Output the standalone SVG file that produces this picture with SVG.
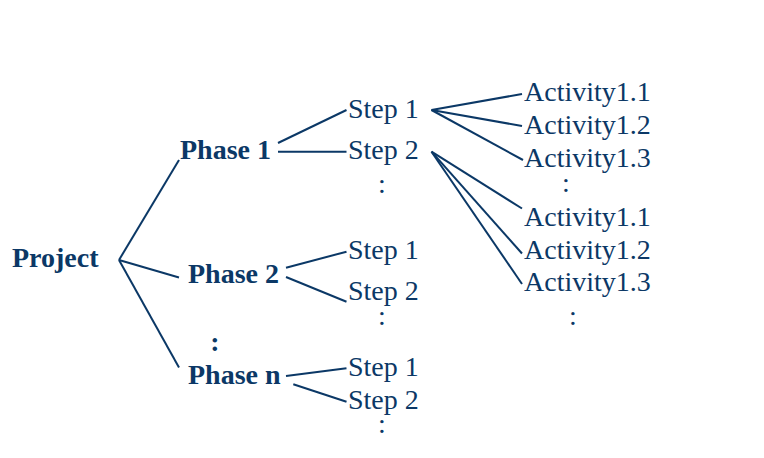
<svg xmlns="http://www.w3.org/2000/svg" width="764" height="458" viewBox="0 0 764 458">
<style>
.t{font-family:"Liberation Serif","Times New Roman",serif;font-size:28px;fill:#0b3866}
.b{font-weight:bold}
.c{text-anchor:middle}
.l line{stroke:#0b3866;stroke-width:2;fill:none}
</style>
<rect width="764" height="458" fill="#ffffff"/>
<g id="connectors" class="l">
<line x1="119" y1="260" x2="179" y2="160"/>
<line x1="119" y1="260" x2="179" y2="277.5"/>
<line x1="119" y1="260" x2="179" y2="367.5"/>
<line x1="278" y1="143" x2="346.5" y2="110"/>
<line x1="278" y1="151.7" x2="346.5" y2="151.7"/>
<line x1="286" y1="267.7" x2="346.5" y2="251.7"/>
<line x1="286" y1="277" x2="346.5" y2="301.7"/>
<line x1="286" y1="376" x2="346.5" y2="368.3"/>
<line x1="293.3" y1="384.3" x2="346.5" y2="401.7"/>
<line x1="431.5" y1="110" x2="522" y2="94"/>
<line x1="431.5" y1="110" x2="522" y2="126"/>
<line x1="431.5" y1="110" x2="523" y2="160"/>
<line x1="431.5" y1="151.7" x2="522" y2="208.5"/>
<line x1="431.5" y1="151.7" x2="522" y2="253.5"/>
<line x1="431.5" y1="151.7" x2="522" y2="284"/>
</g>
<g id="project"><text class="t b" x="12" y="267">Project</text></g>
<g id="phase1"><text class="t b" x="180" y="159">Phase 1</text></g>
<g id="phase2"><text class="t b" x="188" y="283">Phase 2</text></g>
<g id="phase-dots"><text class="t b c" x="215" y="351">:</text></g>
<g id="phasen"><text class="t b" x="188" y="384">Phase n</text></g>
<g id="p1-step1"><text class="t" x="348" y="118">Step 1</text></g>
<g id="p1-step2"><text class="t" x="348" y="159">Step 2</text></g>
<g id="p1-dots"><text class="t c" x="382" y="193">:</text></g>
<g id="p2-step1"><text class="t" x="348" y="259">Step 1</text></g>
<g id="p2-step2"><text class="t" x="348" y="300">Step 2</text></g>
<g id="p2-dots"><text class="t c" x="382" y="325">:</text></g>
<g id="pn-step1"><text class="t" x="348" y="376">Step 1</text></g>
<g id="pn-step2"><text class="t" x="348" y="409">Step 2</text></g>
<g id="pn-dots"><text class="t c" x="382" y="433">:</text></g>
<g id="s1-a1"><text class="t" x="524" y="101">Activity1.1</text></g>
<g id="s1-a2"><text class="t" x="524" y="134">Activity1.2</text></g>
<g id="s1-a3"><text class="t" x="524" y="167">Activity1.3</text></g>
<g id="s1-dots"><text class="t c" x="566" y="192">:</text></g>
<g id="s2-a1"><text class="t" x="524" y="226">Activity1.1</text></g>
<g id="s2-a2"><text class="t" x="524" y="259">Activity1.2</text></g>
<g id="s2-a3"><text class="t" x="524" y="291">Activity1.3</text></g>
<g id="s2-dots"><text class="t c" x="573" y="325">:</text></g>
</svg>
